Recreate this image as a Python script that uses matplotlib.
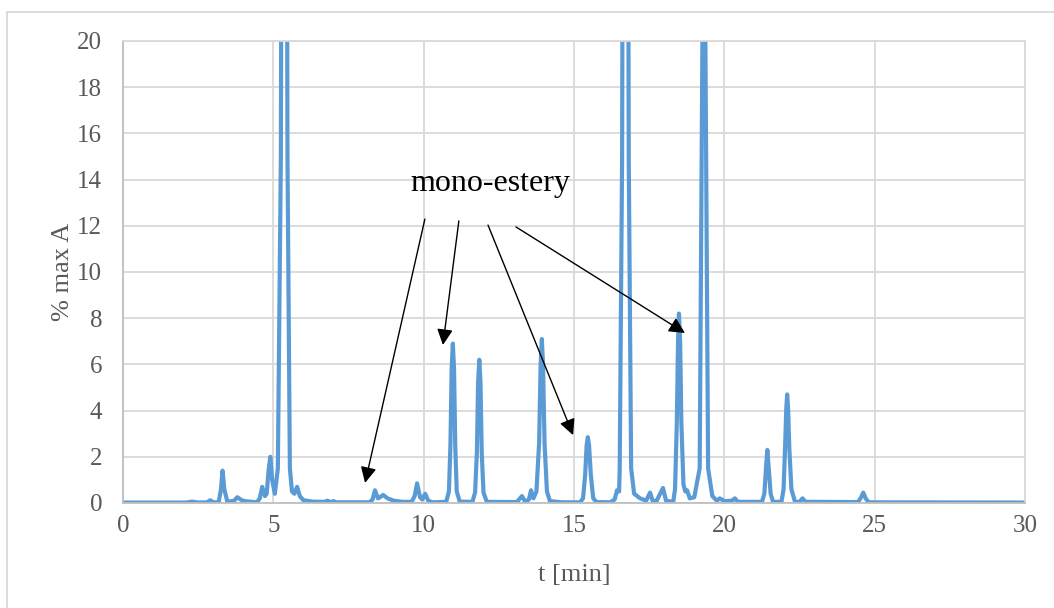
import matplotlib
matplotlib.use('Agg')
import matplotlib.pyplot as plt
from matplotlib.ticker import MultipleLocator
from matplotlib.patches import Rectangle

plt.rcParams['font.family'] = ['Liberation Serif', 'DejaVu Serif']

# chromatogram trace (t in min, % max A)
t = [0.0, 2.1, 2.3, 2.5, 2.8, 2.9, 3.0, 3.18, 3.26, 3.31, 3.37, 3.47, 3.7, 3.8, 3.95,
     4.05, 4.45, 4.55, 4.63, 4.72, 4.78, 4.84, 4.9, 4.96, 5.05, 5.15, 5.25, 5.36, 5.47,
     5.55, 5.62, 5.7, 5.79, 5.88, 6.0, 6.3, 6.7, 6.8, 6.9, 7.0, 7.1, 8.2, 8.3, 8.38,
     8.48, 8.55, 8.65, 8.8, 9.0, 9.3, 9.6, 9.7, 9.78, 9.88, 9.95, 10.05, 10.15, 10.3,
     10.75, 10.84, 10.89, 10.93, 10.97, 11.01, 11.05, 11.1, 11.2, 11.62, 11.71, 11.77,
     11.81, 11.85, 11.89, 11.93, 11.99, 12.1, 13.1, 13.27, 13.38, 13.5, 13.57, 13.65,
     13.75, 13.84, 13.89, 13.93, 13.97, 14.02, 14.1, 14.2, 14.6, 15.2, 15.3, 15.37,
     15.42, 15.46, 15.5, 15.56, 15.64, 15.75, 16.2, 16.35, 16.43, 16.5, 16.52, 16.6,
     16.71, 16.82, 16.9, 17.0, 17.2, 17.4, 17.53, 17.62, 17.75, 17.96, 18.06, 18.3,
     18.36, 18.42, 18.46, 18.49, 18.53, 18.57, 18.64, 18.7, 18.76, 18.85, 19.0, 19.18,
     19.27, 19.32, 19.37, 19.46, 19.6, 19.75, 19.85, 20.0, 20.25, 20.35, 20.45, 21.25,
     21.33, 21.39, 21.43, 21.47, 21.54, 21.62, 21.9, 21.97, 22.02, 22.06, 22.09, 22.12,
     22.16, 22.23, 22.35, 22.5, 22.6, 22.7, 23.0, 24.45, 24.55, 24.62, 24.7, 24.8, 30.0]
a = [0.02, 0.02, 0.06, 0.02, 0.03, 0.12, 0.03, 0.03, 0.6, 1.4, 0.6, 0.05, 0.1, 0.25, 0.12,
     0.08, 0.03, 0.2, 0.7, 0.3, 0.4, 1.4, 2.0, 1.0, 0.4, 1.5, 15, 80, 15,
     1.5, 0.5, 0.4, 0.7, 0.3, 0.12, 0.06, 0.05, 0.1, 0.04, 0.08, 0.03, 0.03, 0.15, 0.55,
     0.2, 0.25, 0.35, 0.2, 0.1, 0.05, 0.05, 0.3, 0.85, 0.25, 0.15, 0.4, 0.1, 0.03,
     0.05, 0.5, 2.5, 5.8, 6.9, 5.8, 2.5, 0.5, 0.06, 0.05, 0.45, 2.2,
     5.2, 6.2, 5.2, 2.2, 0.45, 0.05, 0.04, 0.3, 0.05, 0.15, 0.55, 0.2,
     0.5, 2.6, 6.0, 7.1, 6.0, 2.6, 0.5, 0.08, 0.03, 0.03, 0.2, 1.2,
     2.5, 2.85, 2.5, 1.2, 0.2, 0.04, 0.03, 0.15, 0.55, 0.5, 1.5, 15,
     80, 15, 1.5, 0.4, 0.2, 0.1, 0.45, 0.08, 0.1, 0.65, 0.1, 0.05,
     0.6, 3.5, 7.0, 8.2, 7.0, 3.5, 0.8, 0.5, 0.55, 0.2, 0.25, 1.5,
     20, 80, 20, 1.5, 0.3, 0.1, 0.2, 0.08, 0.1, 0.2, 0.05, 0.05,
     0.4, 1.6, 2.3, 1.6, 0.4, 0.05, 0.05, 0.6, 2.4, 4.1, 4.7, 4.1,
     2.4, 0.6, 0.05, 0.05, 0.2, 0.05, 0.05, 0.04, 0.25, 0.45, 0.2, 0.03, 0.02]

label_text = 'mono-estery'
label_xy = (12.2, 13.85)
arrow_starts = [(10.04, 12.29), (11.17, 12.21), (12.14, 12.03), (13.07, 11.95)]
arrow_ends = [(8.05, 0.87), (10.64, 6.84), (14.97, 2.94), (18.69, 7.36)]

fig = plt.figure(figsize=(10.54, 6.08), dpi=100)
ax = fig.add_axes([0.1167, 0.1727, 0.8558, 0.7599])

ax.plot(t, a, color='#5B9BD5', lw=3.0, solid_joinstyle='round')

ax.set_xlim(0, 30)
ax.set_ylim(0, 20)
ax.xaxis.set_major_locator(MultipleLocator(5))
ax.yaxis.set_major_locator(MultipleLocator(2))
ax.grid(True, color='#D9D9D9', lw=1.3)
ax.set_axisbelow(True)
for s in ax.spines.values():
    s.set_color('#D9D9D9')
    s.set_linewidth(1.3)
ax.spines['left'].set_color('#BFBFBF')
ax.spines['bottom'].set_color('#BFBFBF')
ax.tick_params(length=0, labelsize=18, labelcolor='#595959')
ax.tick_params(axis='y', pad=15)
ax.tick_params(axis='x', pad=9)

ax.set_xlabel('t [min]', fontsize=19, color='#595959', labelpad=19)
ax.set_ylabel('% max A', fontsize=19, color='#595959', labelpad=2)

ax.text(label_xy[0], label_xy[1], label_text, fontsize=23, color='black',
        ha='center', va='center')
for s, e in zip(arrow_starts, arrow_ends):
    ax.annotate('', xy=e, xytext=s,
                arrowprops=dict(arrowstyle='-|>', color='black', lw=1.0,
                                mutation_scale=24, shrinkA=0, shrinkB=0))

fig.patches.append(Rectangle((7 / 1054, -0.01), 1.0, 1 - 12 / 608 + 0.01,
                             transform=fig.transFigure, fill=False,
                             edgecolor='#D9D9D9', lw=1.3))

fig.savefig('out.png', dpi=100)
